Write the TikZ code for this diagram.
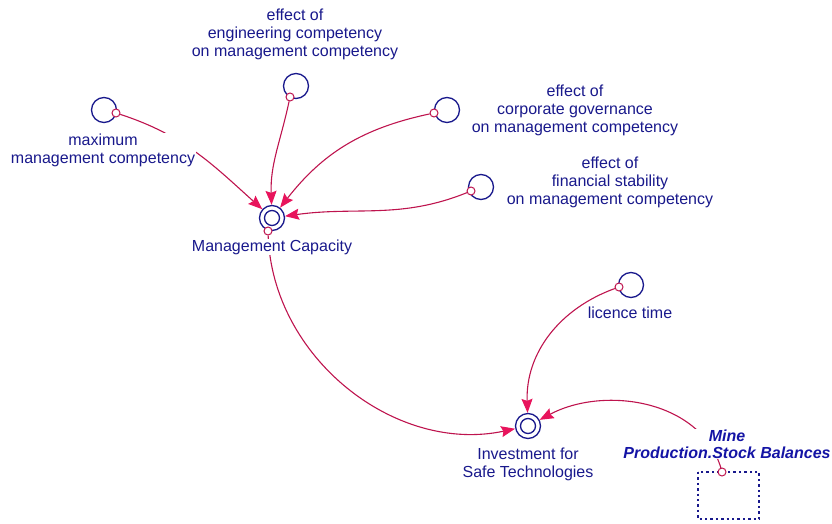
\documentclass[tikz,border=0pt]{standalone}
\usepackage{fontspec}
\setmainfont{Liberation Sans}
\usetikzlibrary{arrows.meta}
\definecolor{navy}{RGB}{25,25,140}
\definecolor{mnavy}{RGB}{20,20,165}
\definecolor{linkc}{RGB}{190,20,78}
\definecolor{headc}{RGB}{232,20,92}
\tikzset{
  aux/.style={circle,draw=navy,line width=1.3pt,minimum size=25pt,inner sep=0pt},
  pin/.style={circle,draw=linkc,fill=white,line width=1pt,minimum size=8pt,inner sep=0pt},
  link/.style={draw=linkc,line width=1.1pt,-{Stealth[length=14pt,width=11pt,inset=2pt,color=headc]}},
  lbl/.style={text=navy,font=\fontsize{16}{18}\selectfont,align=center,fill=white,inner sep=1pt},
  mlbl/.style={text=mnavy,font=\fontsize{16}{17}\selectfont\bfseries\itshape,align=center,fill=white,inner sep=1pt}
}
\begin{document}
\begin{tikzpicture}[x=1pt,y=-1pt]
\useasboundingbox (0,0) rectangle (832,524);
% auxiliaries
\node[aux] (max) at (104,110) {};
\node[aux] (eng) at (296,86) {};
\node[aux] (corp) at (447,110) {};
\node[aux] (fin) at (481,187) {};
\node[aux] (lic) at (631,285) {};
\node[aux] (mc) at (272,218) {};
\draw[navy,line width=1.3pt] (mc) circle (7.5pt);
\node[aux] (inv) at (528,426) {};
\draw[navy,line width=1.3pt] (inv) circle (7.5pt);
% shadow rectangle
\draw[navy,line width=2.6pt,dash pattern=on 2.4pt off 3pt] (698,472) rectangle (759,519);
% pins
\node[pin] (pmax) at (116,113) {};
\node[pin] (peng) at (290,97) {};
\node[pin] (pcorp) at (434,113) {};
\node[pin] (pfin) at (471,191) {};
\node[pin] (plic) at (619,287) {};
\node[pin] (pmc) at (268,231) {};
% links
\draw[link] (pmax) to[out=-18,in=138] (mc);
\draw[link] (peng) to[out=-102,in=92] (mc);
\draw[link] (pcorp) to[out=192,in=52] (mc);
\draw[link] (pfin) to[out=202,in=8] (mc);
\draw[link] (pmc) to[out=-88,in=192] (inv);
\draw[link] (plic) to[out=200,in=92] (inv);
\coordinate (cmine) at (722,472);
\draw[link] (cmine) to[out=104,in=28] (inv);
% labels
\node[lbl] (lmax) at (103,150) {maximum\\management competency};
\node[lbl] (leng) at (295,34) {effect of\\engineering competency\\on management competency};
\node[lbl] (lcorp) at (575,110) {effect of\\corporate governance\\on management competency};
\node[lbl] (lfin) at (610,182) {effect of\\financial stability\\on management competency};
\node[lbl] (lmc) at (272,247) {Management Capacity};
\node[lbl] (llic) at (630,313) {licence time};
\node[lbl] (linv) at (528,464) {Investment for\\Safe Technologies};
\node[mlbl] (lmine) at (727,444) {Mine\\Production.Stock Balances};
\node[pin] (pmine) at (cmine) {};
\end{tikzpicture}
\end{document}
